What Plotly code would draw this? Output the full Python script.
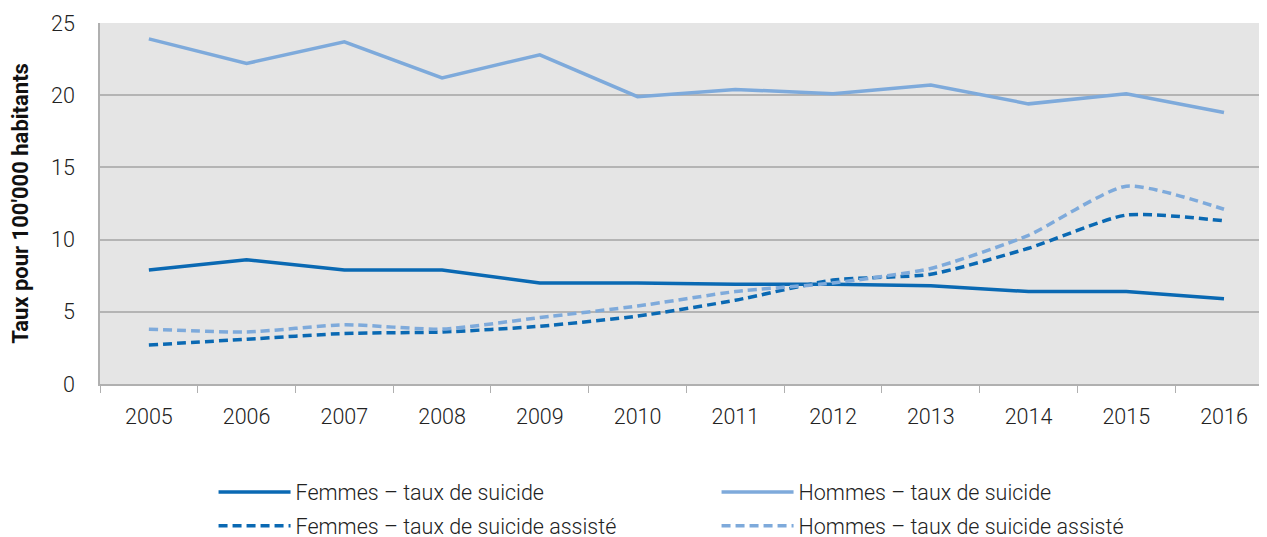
import plotly.graph_objects as go

years = ["2005", "2006", "2007", "2008", "2009", "2010", "2011", "2012", "2013", "2014", "2015", "2016"]
femmes_suicide = [7.9, 8.6, 7.9, 7.9, 7.0, 7.0, 6.9, 6.9, 6.8, 6.4, 6.4, 5.9]
hommes_suicide = [23.9, 22.2, 23.7, 21.2, 22.8, 19.9, 20.4, 20.1, 20.7, 19.4, 20.1, 18.8]
femmes_assiste = [2.7, 3.1, 3.5, 3.6, 4.0, 4.7, 5.8, 7.2, 7.6, 9.4, 11.7, 11.3]
hommes_assiste = [3.8, 3.6, 4.1, 3.8, 4.6, 5.4, 6.4, 7.0, 8.0, 10.3, 13.7, 12.1]

dark = "#0a69b3"
light = "#7eaadb"
font = "Roboto"
txt = dict(family=font, size=21.5, color="#222222", weight=300)

fig = go.Figure()
fig.add_trace(go.Scatter(x=years, y=femmes_suicide, mode="lines", name="Femmes – taux de suicide",
                         line=dict(color=dark, width=3.5), legend="legend"))
fig.add_trace(go.Scatter(x=years, y=hommes_suicide, mode="lines", name="Hommes – taux de suicide",
                         line=dict(color=light, width=3.5), legend="legend"))
fig.add_trace(go.Scatter(x=years, y=femmes_assiste, mode="lines", name="Femmes – taux de suicide assisté",
                         line=dict(color=dark, width=3.5, dash="9px,5px", shape="spline", smoothing=0.6),
                         legend="legend2"))
fig.add_trace(go.Scatter(x=years, y=hommes_assiste, mode="lines", name="Hommes – taux de suicide assisté",
                         line=dict(color=light, width=3.5, dash="9px,5px", shape="spline", smoothing=0.6),
                         legend="legend2"))

leg = dict(orientation="h", x=0.0973, xanchor="left", yanchor="middle",
           entrywidth=416, entrywidthmode="pixels", traceorder="normal",
           font=txt, bgcolor="rgba(0,0,0,0)", itemwidth=72)

fig.update_layout(
    width=1259, height=529,
    margin=dict(l=92, r=0, t=15, b=153, autoexpand=False),
    paper_bgcolor="white",
    plot_bgcolor="#e5e5e5",
    font=txt,
    showlegend=True,
    legend=dict(leg, y=-0.299),
    legend2=dict(leg, y=-0.393),
    xaxis=dict(type="category", range=[-0.5, 11.44], showgrid=False, automargin=False,
               showline=True, linecolor="#b0b0b0", linewidth=1.5,
               ticks="outside", tickson="boundaries", ticklen=7, tickcolor="#b0b0b0",
               ticklabelstandoff=12, tickfont=txt),
    yaxis=dict(range=[0, 25], dtick=5, showgrid=True, gridcolor="#b4b4b4", gridwidth=1.5,
               showline=True, linecolor="#b0b0b0", linewidth=1.5, zeroline=False,
               ticks="", ticklabelstandoff=19, automargin=False,
               tickfont=txt,
               title=dict(text="<b>Taux pour 100'000 habitants</b>", standoff=20,
                          font=dict(family=font, size=22, color="#111111"))),
)

fig.write_html("out.html")
